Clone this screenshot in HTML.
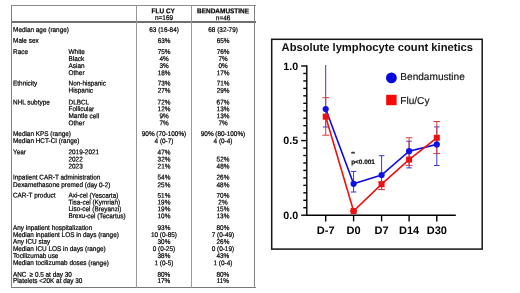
<!DOCTYPE html>
<html><head><meta charset="utf-8"><title>Table and chart</title>
<style>
html,body{margin:0;padding:0;background:#fff;}
body{width:520px;height:293px;position:relative;overflow:hidden;font-family:"Liberation Sans",sans-serif;color:#000;text-rendering:geometricPrecision;}
.ln{position:absolute;background:#555;}
svg{position:absolute;left:0;top:0;}
#tb{position:absolute;left:0;top:0;width:260px;height:293px;transform:rotate(0.01deg);transform-origin:130px 146px;}
</style></head><body>
<div id="tb">

<div class="ln" style="left:11px;top:4.5px;width:244.5px;height:1.2px;background:#8c8c8c;"></div>
<div class="ln" style="left:11px;top:21.45px;width:244.5px;height:1.2px;background:#707070;"></div>
<div class="ln" style="left:11px;top:286.65px;width:244.5px;height:1.2px;background:#777;"></div>
<div class="ln" style="left:11.0px;top:4.5px;width:1.2px;height:283.35px;background:#808080;"></div>
<div class="ln" style="left:135.5px;top:4.5px;width:1.3px;height:283.35px;background:#969696;"></div>
<div class="ln" style="left:190.6px;top:4.5px;width:1.3px;height:283.35px;background:#969696;"></div>
<div class="ln" style="left:254.1px;top:4.5px;width:1.2px;height:283.35px;background:#808080;"></div>
<svg width="260" height="293" viewBox="0 0 260 293" font-family="Liberation Sans, sans-serif" text-rendering="geometricPrecision"><g transform="rotate(0.03 130 146) scale(0.93 1)" font-size="6.88" fill="#000" stroke="#000" stroke-width="0.22" xml:space="preserve">
<text x="13.98" y="31.96">Median age (range)</text>
<text x="176.34" y="31.96" text-anchor="middle">63 (16-84)</text>
<text x="239.78" y="31.96" text-anchor="middle">68 (32-79)</text>
<text x="13.98" y="42.86">Male sex</text>
<text x="176.34" y="42.86" text-anchor="middle">63%</text>
<text x="239.78" y="42.86" text-anchor="middle">65%</text>
<text x="13.98" y="54.06">Race</text>
<text x="73.66" y="54.06">White</text>
<text x="176.34" y="54.06" text-anchor="middle">75%</text>
<text x="239.78" y="54.06" text-anchor="middle">76%</text>
<text x="73.66" y="61.06">Black</text>
<text x="176.34" y="61.06" text-anchor="middle">4%</text>
<text x="239.78" y="61.06" text-anchor="middle">7%</text>
<text x="73.66" y="67.96">Asian</text>
<text x="176.34" y="67.96" text-anchor="middle">3%</text>
<text x="239.78" y="67.96" text-anchor="middle">0%</text>
<text x="73.66" y="75.16">Other</text>
<text x="176.34" y="75.16" text-anchor="middle">18%</text>
<text x="239.78" y="75.16" text-anchor="middle">17%</text>
<text x="13.98" y="85.56">Ethnicity</text>
<text x="73.66" y="85.56">Non-hispanic</text>
<text x="176.34" y="85.56" text-anchor="middle">73%</text>
<text x="239.78" y="85.56" text-anchor="middle">71%</text>
<text x="73.66" y="92.66">Hispanic</text>
<text x="176.34" y="92.66" text-anchor="middle">27%</text>
<text x="239.78" y="92.66" text-anchor="middle">29%</text>
<text x="13.98" y="104.56">NHL subtype</text>
<text x="73.66" y="104.56">DLBCL</text>
<text x="176.34" y="104.56" text-anchor="middle">72%</text>
<text x="239.78" y="104.56" text-anchor="middle">67%</text>
<text x="73.66" y="111.16">Follicular</text>
<text x="176.34" y="111.16" text-anchor="middle">12%</text>
<text x="239.78" y="111.16" text-anchor="middle">13%</text>
<text x="73.66" y="118.16">Mantle cell</text>
<text x="176.34" y="118.16" text-anchor="middle">9%</text>
<text x="239.78" y="118.16" text-anchor="middle">13%</text>
<text x="73.66" y="125.26">Other</text>
<text x="176.34" y="125.26" text-anchor="middle">7%</text>
<text x="239.78" y="125.26" text-anchor="middle">7%</text>
<text x="13.98" y="136.06">Median KPS (range)</text>
<text x="176.34" y="136.06" text-anchor="middle">90% (70-100%)</text>
<text x="239.78" y="136.06" text-anchor="middle">90% (80-100%)</text>
<text x="13.98" y="143.16">Median HCT-CI (range)</text>
<text x="176.34" y="143.16" text-anchor="middle">4 (0-7)</text>
<text x="239.78" y="143.16" text-anchor="middle">4 (0-4)</text>
<text x="13.98" y="154.36">Year</text>
<text x="73.66" y="154.36">2019-2021</text>
<text x="176.34" y="154.36" text-anchor="middle">47%</text>
<text x="73.66" y="161.56">2022</text>
<text x="176.34" y="161.56" text-anchor="middle">32%</text>
<text x="239.78" y="161.56" text-anchor="middle">52%</text>
<text x="73.66" y="168.46">2023</text>
<text x="176.34" y="168.46" text-anchor="middle">21%</text>
<text x="239.78" y="168.46" text-anchor="middle">48%</text>
<text x="13.98" y="179.56">Inpatient CAR-T administration</text>
<text x="176.34" y="179.56" text-anchor="middle">54%</text>
<text x="239.78" y="179.56" text-anchor="middle">26%</text>
<text x="13.98" y="187.16">Dexamethasone premed (day 0-2)</text>
<text x="176.34" y="187.16" text-anchor="middle">25%</text>
<text x="239.78" y="187.16" text-anchor="middle">48%</text>
<text x="13.98" y="197.66">CAR-T product</text>
<text x="73.66" y="197.66">Axi-cel (Yescarta)</text>
<text x="176.34" y="197.66" text-anchor="middle">51%</text>
<text x="239.78" y="197.66" text-anchor="middle">70%</text>
<text x="73.66" y="204.46">Tisa-cel (Kymriah)</text>
<text x="176.34" y="204.46" text-anchor="middle">19%</text>
<text x="239.78" y="204.46" text-anchor="middle">2%</text>
<text x="73.66" y="211.16">Liso-cel (Breyanzi)</text>
<text x="176.34" y="211.16" text-anchor="middle">19%</text>
<text x="239.78" y="211.16" text-anchor="middle">15%</text>
<text x="73.66" y="218.16">Brexu-cel (Tecartus)</text>
<text x="176.34" y="218.16" text-anchor="middle">10%</text>
<text x="239.78" y="218.16" text-anchor="middle">13%</text>
<text x="13.98" y="230.06">Any inpatient hospitalization</text>
<text x="176.34" y="230.06" text-anchor="middle">93%</text>
<text x="239.78" y="230.06" text-anchor="middle">80%</text>
<text x="13.98" y="237.06">Median inpatient LOS in days (range)</text>
<text x="176.34" y="237.06" text-anchor="middle">10 (0-85)</text>
<text x="239.78" y="237.06" text-anchor="middle">7 (0-49)</text>
<text x="13.98" y="243.86">Any ICU stay</text>
<text x="176.34" y="243.86" text-anchor="middle">30%</text>
<text x="239.78" y="243.86" text-anchor="middle">26%</text>
<text x="13.98" y="251.06">Median ICU LOS in days (range)</text>
<text x="176.34" y="251.06" text-anchor="middle">0 (0-25)</text>
<text x="239.78" y="251.06" text-anchor="middle">0 (0-19)</text>
<text x="13.98" y="257.96">Tocilizumab use</text>
<text x="176.34" y="257.96" text-anchor="middle">38%</text>
<text x="239.78" y="257.96" text-anchor="middle">43%</text>
<text x="13.98" y="265.16">Median tocilizumab doses (range)</text>
<text x="176.34" y="265.16" text-anchor="middle">1 (0-5)</text>
<text x="239.78" y="265.16" text-anchor="middle">1 (0-4)</text>
<text x="13.98" y="276.76">ANC <tspan dx="1.3 0 0.2">≥ 0.5 at day 30</tspan></text>
<text x="176.34" y="276.76" text-anchor="middle">80%</text>
<text x="239.78" y="276.76" text-anchor="middle">80%</text>
<text x="13.98" y="282.96">Platelets &lt;20K at day 30</text>
<text x="176.34" y="282.96" text-anchor="middle">17%</text>
<text x="239.78" y="282.96" text-anchor="middle">11%</text>
<text x="175.48" y="13.3" text-anchor="middle" font-weight="bold" font-size="6.95">FLU CY</text>
<text x="176.34" y="20.1" text-anchor="middle" font-size="6.95">n=169</text>
<text x="239.78" y="13.3" text-anchor="middle" font-weight="bold" font-size="6.95">BENDAMUSTINE</text>
<text x="239.78" y="20.1" text-anchor="middle" font-size="6.95">n=46</text>
</g></svg>
</div>
<svg width="520" height="293" viewBox="0 0 520 293" font-family="Liberation Sans, sans-serif">
<rect x="271.7" y="39.3" width="210.5" height="209.8" fill="#fff" stroke="#151515" stroke-width="1.5"/>
<text x="377.3" y="51" font-size="11.2" font-weight="bold" text-anchor="middle" fill="#111">Absolute lymphocyte count kinetics</text>
<g stroke="#000" stroke-width="1.4" fill="none">
<path d="M306.8 65.3 V215.2 H455.8"/>
<path d="M301.2 215.20 H306.8"/>
<path d="M303.3 207.74 H306.8"/>
<path d="M303.3 200.28 H306.8"/>
<path d="M303.3 192.82 H306.8"/>
<path d="M303.3 185.36 H306.8"/>
<path d="M303.3 177.90 H306.8"/>
<path d="M303.3 170.44 H306.8"/>
<path d="M303.3 162.98 H306.8"/>
<path d="M303.3 155.52 H306.8"/>
<path d="M303.3 148.06 H306.8"/>
<path d="M301.2 140.60 H306.8"/>
<path d="M303.3 133.14 H306.8"/>
<path d="M303.3 125.68 H306.8"/>
<path d="M303.3 118.22 H306.8"/>
<path d="M303.3 110.76 H306.8"/>
<path d="M303.3 103.30 H306.8"/>
<path d="M303.3 95.84 H306.8"/>
<path d="M303.3 88.38 H306.8"/>
<path d="M303.3 80.92 H306.8"/>
<path d="M303.3 73.46 H306.8"/>
<path d="M301.2 66.00 H306.8"/>
<path d="M325.7 215.2 V221.4"/>
<path d="M353.6 215.2 V221.4"/>
<path d="M381.6 215.2 V221.4"/>
<path d="M409.1 215.2 V221.4"/>
<path d="M436.8 215.2 V221.4"/>
</g>
<g font-size="10.7" font-weight="bold" fill="#000">
<text x="298.2" y="69.70" text-anchor="end">1.0</text>
<text x="298.2" y="144.30" text-anchor="end">0.5</text>
<text x="298.2" y="218.90" text-anchor="end">0.0</text>
<text x="325.7" y="233.8" text-anchor="middle" font-size="11">D-7</text>
<text x="353.6" y="233.8" text-anchor="middle" font-size="11">D0</text>
<text x="381.6" y="233.8" text-anchor="middle" font-size="11">D7</text>
<text x="409.1" y="233.8" text-anchor="middle" font-size="11">D14</text>
<text x="436.8" y="233.8" text-anchor="middle" font-size="11">D30</text>
</g>
<path d="M325.7 65.0 V127.0 M322.9 127.0 H328.5" stroke="#3838cc" stroke-width="1" fill="none"/>
<path d="M353.6 171.4 V192.0 M350.8 171.4 H356.40000000000003 M350.8 192.0 H356.40000000000003" stroke="#3838cc" stroke-width="1" fill="none"/>
<path d="M381.6 155.7 V189.5 M378.8 155.7 H384.40000000000003 M378.8 189.5 H384.40000000000003" stroke="#3838cc" stroke-width="1" fill="none"/>
<path d="M409.1 141.2 V167.9 M406.3 141.2 H411.90000000000003 M406.3 167.9 H411.90000000000003" stroke="#3838cc" stroke-width="1" fill="none"/>
<path d="M436.8 126.9 V165.5 M434.0 126.9 H439.6 M434.0 165.5 H439.6" stroke="#3838cc" stroke-width="1" fill="none"/>
<path d="M325.7 97.7 V135.2 M322.3 97.7 H329.09999999999997 M322.3 135.2 H329.09999999999997" stroke="#e03838" stroke-width="1" fill="none"/>
<path d="M353.6 210.5 V211.5 M350.20000000000005 210.5 H357.0 M350.20000000000005 211.5 H357.0" stroke="#e03838" stroke-width="1" fill="none"/>
<path d="M381.6 182.0 V189.6 M378.20000000000005 182.0 H385.0 M378.20000000000005 189.6 H385.0" stroke="#e03838" stroke-width="1" fill="none"/>
<path d="M409.1 137.8 V165.4 M405.70000000000005 137.8 H412.5 M405.70000000000005 165.4 H412.5" stroke="#e03838" stroke-width="1" fill="none"/>
<path d="M436.8 121.5 V153.6 M433.40000000000003 121.5 H440.2 M433.40000000000003 153.6 H440.2" stroke="#e03838" stroke-width="1" fill="none"/>
<polyline fill="none" stroke="#0b0be6" stroke-width="1.6" points="325.7,109.0 353.6,183.8 381.6,175.0 409.1,151.2 436.8,144.4"/>
<polyline fill="none" stroke="#f01010" stroke-width="1.6" points="325.7,116.7 353.6,211.0 381.6,184.2 409.1,159.6 436.8,137.8"/>
<circle cx="325.7" cy="109.0" r="3.1" fill="#1010e8"/>
<circle cx="353.6" cy="183.8" r="3.1" fill="#1010e8"/>
<circle cx="381.6" cy="175.0" r="3.1" fill="#1010e8"/>
<circle cx="409.1" cy="151.2" r="3.1" fill="#1010e8"/>
<circle cx="436.8" cy="144.4" r="3.1" fill="#1010e8"/>
<rect x="322.7" y="113.7" width="6" height="6" fill="#f01010"/>
<rect x="350.6" y="208.0" width="6" height="6" fill="#f01010"/>
<rect x="378.6" y="181.2" width="6" height="6" fill="#f01010"/>
<rect x="406.1" y="156.6" width="6" height="6" fill="#f01010"/>
<rect x="433.8" y="134.8" width="6" height="6" fill="#f01010"/>
<text x="351.2" y="155.2" font-size="4.6" font-weight="bold" fill="#111" stroke="#111" stroke-width="0.2">**</text>
<text x="351.2" y="163.9" font-size="6.4" font-weight="bold" fill="#111" stroke="#111" stroke-width="0.2">p&lt;0.001</text>
<circle cx="391.4" cy="77.9" r="5.4" fill="#0606e0"/>
<text x="400.3" y="79.5" font-size="10.1" fill="#111" stroke="#111" stroke-width="0.15">Bendamustine</text>
<rect x="386.2" y="94.8" width="10.4" height="10.4" fill="#f40808"/>
<text x="400.3" y="104.0" font-size="10.1" fill="#111" stroke="#111" stroke-width="0.15">Flu/Cy</text>
</svg>
</body></html>
